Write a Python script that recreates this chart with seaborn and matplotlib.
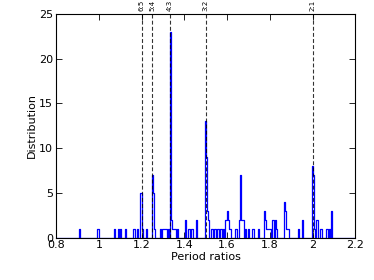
import numpy as np
import pandas as pd
import seaborn as sns
import matplotlib
matplotlib.use("Agg")
import matplotlib.pyplot as plt
from matplotlib.ticker import FuncFormatter
import matplotlib.transforms as mtransforms

# Histogram of period ratios (bin centre, count), bin width 0.005
ratio = [0.91, 0.995, 1.0, 1.075, 1.09, 1.10, 1.125, 1.16, 1.165, 1.18,
         1.195, 1.2, 1.205, 1.225, 1.25, 1.255, 1.26, 1.29, 1.30, 1.305,
         1.31, 1.315, 1.325, 1.335, 1.34, 1.345, 1.35, 1.355, 1.36, 1.37,
         1.405, 1.42, 1.425, 1.435, 1.44, 1.455,
         1.5, 1.505, 1.51, 1.515, 1.525, 1.53, 1.54, 1.545,
         1.555, 1.56, 1.57, 1.575, 1.585,
         1.595, 1.6, 1.605, 1.61, 1.615, 1.64, 1.645, 1.66, 1.665, 1.67,
         1.675, 1.685, 1.70, 1.72, 1.725, 1.745, 1.775, 1.78, 1.785, 1.79,
         1.795, 1.80, 1.805, 1.815, 1.825, 1.83, 1.87, 1.875, 1.88, 1.885,
         1.935, 1.955, 2.0, 2.005, 2.01, 2.02, 2.025, 2.035, 2.04,
         2.065, 2.07, 2.08, 2.09]
count = [1, 1, 1, 1, 1, 1, 1, 1, 1, 1,
         5, 5, 1, 1, 7, 5, 1, 1, 1, 1,
         1, 1, 1, 23, 2, 1, 1, 1, 1, 1,
         2, 1, 1, 1, 1, 2,
         13, 9, 3, 2, 1, 1, 1, 1,
         1, 1, 1, 1, 1,
         2, 3, 2, 1, 1, 1, 1, 2, 7, 2,
         2, 1, 1, 1, 1, 1, 3, 2, 1, 1,
         1, 1, 1, 2, 2, 1, 4, 3, 1, 1,
         1, 2, 8, 7, 1, 2, 2, 1, 1,
         1, 1, 1, 3]

res_pos = [6 / 5, 5 / 4, 4 / 3, 3 / 2, 2 / 1]
res_lab = ["6:5", "5:4", "4:3", "3:2", "2:1"]

df = pd.DataFrame({"ratio": ratio, "count": count})

plt.rcParams["font.family"] = ["DejaVu Sans"]
fig, ax = plt.subplots(figsize=(3.74, 2.8), dpi=100)
fig.subplots_adjust(left=0.150, right=0.950, bottom=0.151, top=0.95)

sns.histplot(data=df, x="ratio", weights="count", binwidth=0.005,
             binrange=(0.7975, 2.1975), element="step", fill=False,
             color="#0000ff", linewidth=0.9, ax=ax)

trans = mtransforms.blended_transform_factory(ax.transData, ax.transAxes)
for x, lab in zip(res_pos, res_lab):
    ax.axvline(x, color="k", linestyle=(0, (3.5, 2)), linewidth=0.8, alpha=0.8)
    ax.text(x, 1.012, lab, transform=trans, rotation=90, ha="center",
            va="bottom", fontsize=5)

ax.set_xlim(0.8, 2.2)
ax.set_ylim(0, 25)
ax.set_xticks(np.arange(0.8, 2.21, 0.2))
ax.set_yticks([0, 5, 10, 15, 20, 25])
ax.xaxis.set_major_formatter(FuncFormatter(lambda v, p: "%g" % round(v, 2)))
ax.tick_params(direction="in", top=True, right=True, length=4, width=0.6,
               labelsize=8, pad=2)
for s in ax.spines.values():
    s.set_linewidth(0.8)
ax.set_xlabel("Period ratios", fontsize=8, labelpad=1)
ax.set_ylabel("Distribution", fontsize=8, labelpad=2)

fig.savefig("out.png", dpi=100)
